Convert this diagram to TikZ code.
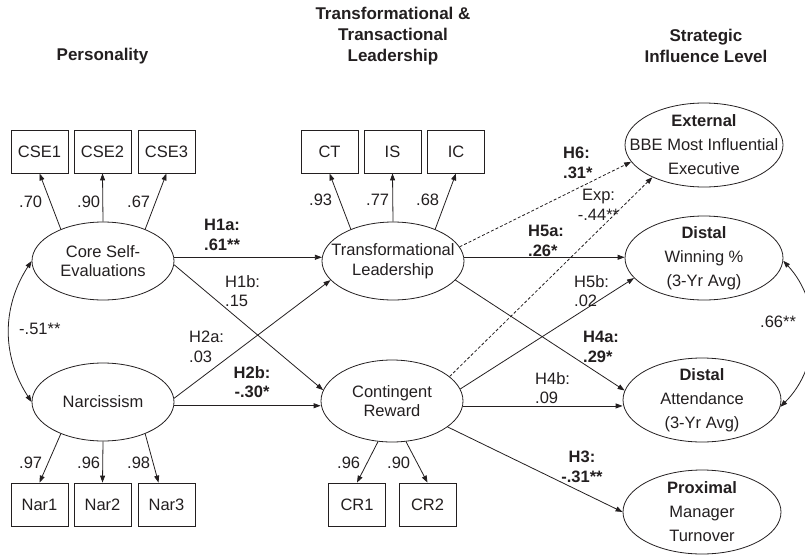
\documentclass[tikz,border=0pt]{standalone}
\usepackage{fontspec}
\setmainfont{Liberation Sans}
\usetikzlibrary{shapes.geometric,arrows.meta}
\definecolor{ink}{HTML}{231F20}
\begin{document}
\begin{tikzpicture}[x=1pt,y=-1pt,
  every node/.style={font=\fontsize{16.5}{19.5}\selectfont, text=ink},
  ind/.style={draw=ink, line width=0.8pt, minimum width=57pt, minimum height=43pt, inner sep=0pt},
  lat/.style={ellipse, draw=ink, line width=0.8pt, minimum width=142pt, minimum height=78pt, inner sep=0pt},
  outc/.style={ellipse, draw=ink, line width=0.8pt, minimum width=158pt, minimum height=84pt, inner sep=0pt},
  lbl/.style={align=center, inner sep=0pt, font=\fontsize{16.5}{19.5}\selectfont},
  olbl/.style={align=center, inner sep=0pt, font=\fontsize{16.5}{24}\selectfont},
  hdr/.style={align=center, inner sep=0pt, font=\bfseries\fontsize{17}{21}\selectfont},
  coef/.style={anchor=west, inner sep=0pt, align=left},
  coefc/.style={inner sep=0pt, align=center},
  arr/.style={draw=ink, line width=0.8pt, -{Triangle[length=7pt,width=5pt]}},
  arrb/.style={draw=ink, line width=0.8pt, {Triangle[length=7pt,width=5pt]}-{Triangle[length=7pt,width=5pt]}},
  dsh/.style={arr, dash pattern=on 3pt off 2pt}
]
\useasboundingbox (0,0) rectangle (805,554);

% headers
\node[hdr] (hp) at (102.5,56) {Personality};
\node[hdr] (ht) at (393,36) {Transformational \&\\Transactional\\Leadership};
\node[hdr] (hs) at (706,46) {Strategic\\Influence Level};

% indicators
\node[ind] (cse1) at (39.5,151.5) {CSE1};
\node[ind] (cse2) at (102.5,151.5) {CSE2};
\node[ind] (cse3) at (166.5,151.5) {CSE3};
\node[ind] (ct) at (329.5,151.5) {CT};
\node[ind] (is) at (392.5,151.5) {IS};
\node[ind] (ic) at (456,151.5) {IC};
\node[ind] (nar1) at (39.5,504.5) {Nar1};
\node[ind] (nar2) at (102.5,504.5) {Nar2};
\node[ind] (nar3) at (166.5,504.5) {Nar3};
\node[ind] (cr1) at (357,504.5) {CR1};
\node[ind] (cr2) at (427.5,504.5) {CR2};

% latent variables
\node[lat, label={[lbl]center:Core Self-\\Evaluations}] (cse) at (103,261) {};
\node[lat, label={[lbl]center:Narcissism}] (nar) at (103,402) {};
\node[lat, label={[lbl]center:Transformational\\Leadership}] (tl) at (393,261) {};
\node[lat, minimum height=82pt, label={[lbl]center:Contingent\\Reward}] (cr) at (392,401) {};

% outcomes
\node[outc, label={[olbl]center:\textbf{External}\\BBE Most Influential\\Executive}] (ext) at (704,145) {};
\node[outc, label={[olbl]center:\textbf{Distal}\\Winning \%\\(3-Yr Avg)}] (win) at (704,258) {};
\node[outc, label={[olbl]center:\textbf{Distal}\\Attendance\\(3-Yr Avg)}] (att) at (702,400) {};
\node[outc, label={[olbl]center:\textbf{Proximal}\\Manager\\Turnover}] (prox) at (702,512) {};

% measurement arrows
\draw[arr] (cse.143) -- (cse1.south);
\draw[arr] (cse.north) -- (cse2.south);
\draw[arr] (cse.37) -- (cse3.south);
\draw[arr] (tl.143) -- (ct.south);
\draw[arr] (tl.north) -- (is.south);
\draw[arr] (tl.37) -- (ic.south);
\draw[arr] (nar.217) -- (nar1.north);
\draw[arr] (nar.south) -- (nar2.north);
\draw[arr] (nar.323) -- ([xshift=-8pt]nar3.north);
\draw[arr] (cr.251) -- (cr1.north);
\draw[arr] (cr.289) -- (cr2.north);

% structural paths
\draw[arr] (cse.3) -- (tl.177);
\draw[arr] (cse.-3) -- (cr.171);
\draw[arr] (nar.3) -- (tl.197);
\draw[arr] (nar.-3) -- (nar.-3 -| cr.west);
\draw[arr] (tl.3) -- (tl.3 -| win.west);
\draw[dsh] (tl.12) -- (ext.193);
\draw[dsh] (cr.23) -- (ext.212);
\draw[arr] (cr.10) -- (win.196);
\draw[arr] (tl.-17) -- (att.173);
\draw[arr] (cr.-4) -- (cr.-4 -| att.west);
\draw[arr] (cr.-25) -- (prox.west);
\draw[arrb] (cse.west) to[bend right=33] (nar.west);
\draw[arrb] (win.-2) to[bend left=44] (att.-5);

% loadings
\node[coef] (l1) at (19,202) {.70};
\node[coef] (l2) at (77,202) {.90};
\node[coef] (l3) at (127,202) {.67};
\node[coef] (l4) at (309,200) {.93};
\node[coef] (l5) at (366,200) {.77};
\node[coef] (l6) at (416,200) {.68};
\node[coef] (l7) at (19,463) {.97};
\node[coef] (l8) at (77,463) {.96};
\node[coef] (l9) at (127,463) {.98};
\node[coef] (l10) at (337,463) {.96};
\node[coef] (l11) at (387,463) {.90};

% path coefficients
\node[coef] (h1a) at (204,235) {\textbf{H1a:}\\\textbf{.61**}};
\node[coef] (h1b) at (225,291) {H1b:\\.15};
\node[coef] (r1) at (19,329) {-.51**};
\node[coef] (h2a) at (189,347) {H2a:\\.03};
\node[coefc] (h2b) at (252,382) {\textbf{H2b:}\\\textbf{-.30*}};
\node[coef] (h5a) at (528,241) {\textbf{H5a:}\\\textbf{.26*}};
\node[coef] (h5b) at (574,291) {H5b:\\.02};
\node[coef] (h6) at (563,163) {\textbf{H6:}\\\textbf{.31*}};
\node[coefc] (exp) at (598.5,205) {Exp:\\-.44**};
\node[coef] (h4a) at (583,347) {\textbf{H4a:}\\\textbf{.29*}};
\node[coef] (h4b) at (535,388) {H4b:\\.09};
\node[coefc] (h3) at (582,467) {\textbf{H3:}\\\textbf{-.31**}};
\node[coef] (r2) at (760,322) {.66**};
\end{tikzpicture}
\end{document}
